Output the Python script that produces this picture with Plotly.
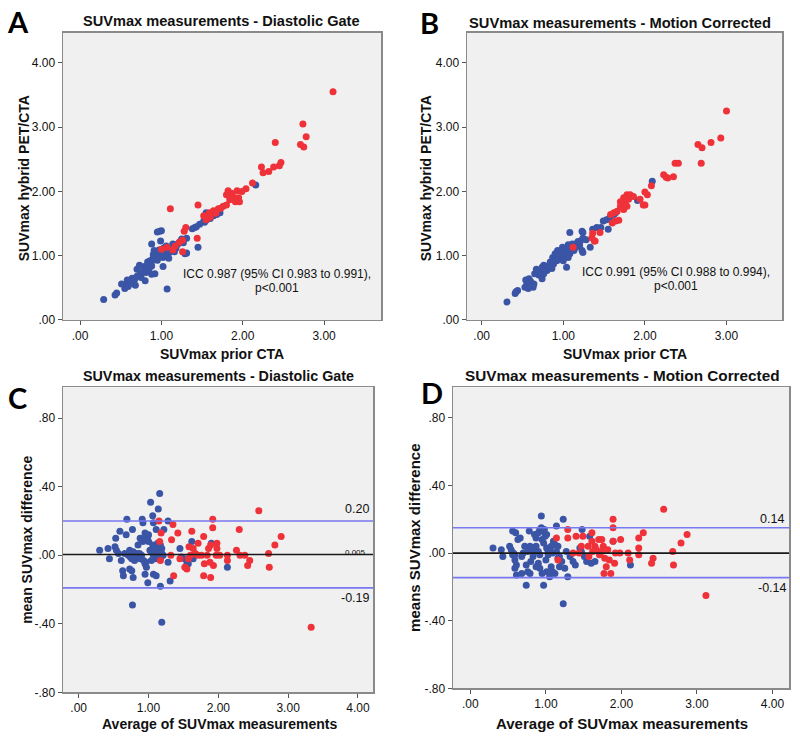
import plotly.graph_objects as go

# ---------------- DATA ----------------
# Panel A: SUVmax prior CTA (x) vs SUVmax hybrid PET/CTA (y), Diastolic Gate
a_red = [(3.11, 3.55), (2.74, 3.05), (2.78, 2.85), (2.71, 2.73), (2.75, 2.69), (2.40, 2.76),
         (2.47, 2.45), (2.45, 2.40), (2.38, 2.38), (2.23, 2.38), (2.25, 2.29), (2.32, 2.31),
         (2.12, 2.13), (2.04, 2.04), (1.99, 2.00), (1.93, 2.01), (1.82, 2.01), (1.80, 1.95),
         (1.89, 1.91), (1.95, 1.90), (1.84, 1.87), (1.91, 1.84), (1.96, 1.84), (1.80, 1.79),
         (1.76, 1.77), (1.70, 1.73), (1.64, 1.70), (1.59, 1.67), (1.52, 1.62), (1.55, 1.56),
         (1.45, 1.79), (1.11, 1.73), (1.30, 1.44), (1.28, 1.38), (1.44, 1.27), (1.26, 1.06),
         (1.26, 1.24), (1.07, 1.13), (1.17, 1.15), (1.00, 1.10), (1.86, 1.97), (1.73, 1.74),
         (1.67, 1.66), (1.60, 1.60), (1.22, 1.21), (1.14, 1.09)]
a_blue = [(0.29, 0.32), (0.45, 0.42), (0.43, 0.39), (0.51, 0.56), (0.57, 0.56), (0.59, 0.52),
          (0.55, 0.49), (0.66, 0.56), (0.68, 0.54), (0.70, 0.68), (0.74, 0.71), (0.70, 0.79),
          (0.73, 0.85), (0.78, 0.77), (0.82, 0.81), (0.84, 0.86), (0.80, 0.61), (0.88, 0.71),
          (0.92, 0.72), (0.86, 0.92), (0.90, 0.97), (0.94, 1.00), (0.91, 1.08), (0.93, 1.05),
          (0.88, 1.18), (0.98, 1.38), (1.00, 1.39), (0.95, 1.37), (0.99, 1.23), (1.02, 0.83),
          (1.07, 0.48), (1.02, 0.97), (1.07, 1.03), (1.11, 1.08), (1.13, 1.13), (1.17, 1.15),
          (1.21, 1.19), (1.25, 1.26), (1.31, 1.27), (1.29, 1.03), (1.31, 1.04), (1.45, 1.13),
          (1.41, 1.44), (1.43, 1.45), (1.47, 1.49), (1.52, 1.54), (1.55, 1.55), (1.58, 1.59),
          (1.55, 1.67), (1.64, 1.62), (1.68, 1.64), (1.72, 1.67), (1.86, 1.94), (2.16, 2.10),
          (0.62, 0.60), (0.76, 0.74), (0.79, 0.83), (0.85, 0.80), (0.87, 0.88), (0.89, 0.93),
          (0.92, 0.95), (0.95, 0.93), (0.97, 0.99), (0.99, 1.02), (1.01, 1.05), (1.04, 1.00),
          (1.05, 1.08), (1.08, 1.10), (1.10, 1.05), (1.12, 1.11), (1.15, 1.10), (1.18, 1.12),
          (1.19, 1.17), (1.23, 1.22), (1.27, 1.20), (0.96, 1.06), (0.90, 1.02), (0.83, 0.90),
          (0.64, 0.65), (0.58, 0.62), (1.53, 1.52), (1.60, 1.58), (1.38, 1.42), (1.09, 0.96),
          (0.93, 0.98), (0.97, 1.09), (1.03, 1.12), (1.06, 1.15), (1.14, 1.18), (1.16, 1.06),
          (0.88, 0.84), (0.81, 0.74), (0.75, 0.66), (0.67, 0.63)]

# Panel B: Motion Corrected
b_red = [(3.00, 3.25), (2.93, 2.83), (2.81, 2.76), (2.65, 2.73), (2.70, 2.68), (2.69, 2.44),
         (2.37, 2.44), (2.41, 2.44), (2.35, 2.23), (2.23, 2.26), (2.26, 2.22), (2.28, 2.21),
         (2.08, 2.09), (2.00, 1.99), (2.03, 1.95), (1.98, 1.79), (2.00, 1.79), (1.86, 1.92),
         (1.82, 1.95), (1.78, 1.95), (1.74, 1.90), (1.70, 1.84), (1.73, 1.82), (1.76, 1.85),
         (1.70, 1.77), (1.78, 1.77), (1.74, 1.72), (1.66, 1.69), (1.62, 1.67), (1.58, 1.64),
         (1.68, 1.55), (1.60, 1.51), (1.64, 1.54), (1.45, 1.36), (1.36, 1.35), (1.35, 1.28),
         (1.38, 1.23), (1.39, 1.23), (1.12, 1.13), (1.80, 1.88), (1.72, 1.80), (1.94, 1.88)]
b_blue = [(0.31, 0.28), (0.42, 0.44), (0.44, 0.46), (0.41, 0.41), (0.53, 0.51), (0.55, 0.54),
          (0.57, 0.49), (0.54, 0.62), (0.58, 0.64), (0.63, 0.51), (0.64, 0.56), (0.65, 0.72),
          (0.67, 0.79), (0.72, 0.74), (0.74, 0.82), (0.76, 0.85), (0.80, 0.77), (0.82, 0.81),
          (0.85, 0.85), (0.88, 0.87), (0.74, 0.64), (0.76, 0.72), (0.87, 0.97), (0.90, 1.03),
          (0.93, 1.08), (0.95, 1.03), (0.98, 1.00), (0.92, 0.92), (1.00, 0.92), (1.04, 0.82),
          (1.06, 0.97), (1.08, 1.03), (1.08, 1.36), (1.12, 1.15), (1.15, 1.18), (1.19, 1.19),
          (1.21, 1.23), (1.24, 1.27), (1.23, 1.38), (1.24, 1.36), (1.23, 1.08), (1.24, 1.05),
          (1.33, 1.13), (1.36, 1.41), (1.41, 1.44), (1.46, 1.44), (1.49, 1.54), (1.53, 1.56),
          (1.55, 1.41), (1.57, 1.59), (1.62, 1.64), (1.64, 1.67), (2.09, 2.16), (1.91, 1.86),
          (0.84, 0.90), (0.89, 0.94), (0.91, 0.98), (0.94, 0.96), (0.96, 1.06), (0.99, 1.09),
          (1.01, 1.04), (1.03, 1.11), (1.05, 1.07), (1.07, 1.13), (1.10, 1.10), (1.13, 1.08),
          (1.16, 1.14), (1.18, 1.22), (1.20, 1.16), (0.97, 0.95), (0.78, 0.80), (0.70, 0.70),
          (0.60, 0.60), (1.02, 0.98), (1.11, 1.18), (1.28, 1.25), (0.93, 1.01), (0.99, 1.13),
          (1.06, 1.17), (1.14, 1.12), (0.86, 0.80), (0.81, 0.84)]

# Panel C: Bland-Altman, Diastolic Gate (average, difference)
c_red = [(3.33, -0.42), (2.58, 0.26), (2.90, 0.11), (2.81, 0.06), (2.72, 0.01), (2.73, -0.07),
         (2.45, -0.03), (2.42, -0.06), (2.38, 0.00), (2.31, 0.00), (2.30, 0.15), (2.26, 0.03),
         (2.13, 0.00), (2.13, -0.03), (1.98, 0.07), (1.98, 0.04), (2.02, 0.00), (1.97, 0.00),
         (1.93, -0.06), (1.88, -0.04), (1.92, 0.21), (1.92, 0.16), (1.86, 0.04), (1.89, 0.06),
         (1.89, -0.13), (1.80, -0.05), (1.79, -0.12), (1.79, 0.11), (1.76, 0.00), (1.71, 0.00),
         (1.67, 0.01), (1.64, 0.04), (1.71, 0.07), (1.62, 0.14), (1.60, 0.00), (1.57, -0.02),
         (1.55, -0.08), (1.52, -0.07), (1.58, 0.05), (1.42, 0.13), (1.35, 0.18), (1.36, -0.12),
         (1.33, 0.09), (1.32, 0.00), (1.15, 0.20), (1.16, 0.08), (1.17, -0.03), (1.18, 0.13),
         (1.45, -0.02), (1.84, 0.00)]
c_blue = [(0.30, 0.03), (0.42, 0.04), (0.44, -0.02), (0.52, 0.05), (0.54, 0.03), (0.57, 0.01),
          (0.53, 0.10), (0.59, 0.14), (0.61, -0.03), (0.63, -0.09), (0.64, -0.12), (0.68, 0.12),
          (0.69, 0.21), (0.73, -0.08), (0.76, -0.09), (0.78, -0.13), (0.77, 0.15), (0.77, -0.29),
          (0.71, 0.00), (0.76, -0.02), (0.80, -0.03), (0.83, 0.01), (0.66, 0.01), (0.73, 0.03),
          (0.78, 0.02), (0.85, 0.00), (0.88, -0.02), (0.85, 0.06), (0.88, 0.10), (0.90, 0.09),
          (0.92, 0.08), (0.97, 0.10), (0.99, 0.11), (0.95, 0.13), (0.91, 0.21), (0.92, 0.19),
          (0.99, -0.16), (0.95, -0.05), (0.93, -0.03), (0.97, -0.07), (0.95, -0.11), (1.03, 0.31),
          (1.06, 0.23), (1.07, 0.19), (1.11, 0.15), (1.14, 0.27), (1.16, 0.36), (1.17, -0.18),
          (1.19, -0.39), (1.07, -0.11), (1.11, -0.12), (1.04, -0.03), (1.02, 0.03), (1.04, 0.02),
          (1.08, 0.04), (1.09, 0.01), (1.11, 0.05), (1.14, 0.03), (1.16, 0.02), (1.19, 0.04),
          (1.21, 0.00), (1.07, 0.00), (1.12, -0.01), (1.15, 0.00), (1.22, 0.15), (1.28, 0.20),
          (1.28, -0.04), (1.31, -0.15), (1.45, 0.04), (1.47, -0.01), (1.52, -0.02), (1.55, -0.05),
          (1.57, -0.05), (1.62, 0.08), (1.64, -0.02), (1.90, 0.07), (2.13, -0.07), (0.96, -0.04),
          (1.00, 0.08), (1.13, 0.07), (1.17, 0.06), (1.10, -0.02), (0.82, -0.01), (0.90, 0.00),
          (1.13, 0.01), (1.16, 0.05), (1.19, 0.01), (1.10, 0.03), (1.14, -0.02), (1.18, -0.01),
          (0.74, -0.01), (0.80, 0.00), (0.87, 0.01), (1.06, 0.06), (1.00, 0.12), (0.94, 0.10)]

# Panel D: Bland-Altman, Motion Corrected
d_red = [(3.12, -0.25), (2.56, 0.26), (2.87, 0.11), (2.79, 0.06), (2.68, 0.01), (2.69, -0.07),
         (2.42, -0.03), (2.40, -0.06), (2.29, 0.12), (2.23, 0.09), (2.23, 0.03), (2.23, -0.01),
         (2.11, -0.04), (2.09, 0.00), (1.99, 0.08), (1.98, 0.00), (1.92, 0.00), (1.89, 0.20),
         (1.89, 0.15), (1.89, 0.07), (1.91, -0.06), (1.86, -0.12), (1.77, -0.12), (1.80, -0.08),
         (1.84, -0.04), (1.76, 0.04), (1.74, 0.01), (1.71, -0.01), (1.78, -0.03), (1.82, 0.02),
         (1.70, 0.08), (1.74, 0.08), (1.65, 0.04), (1.62, 0.01), (1.67, 0.02), (1.61, 0.12),
         (1.61, 0.07), (1.57, -0.02), (1.56, 0.04), (1.49, 0.10), (1.47, 0.04), (1.44, 0.00),
         (1.40, 0.10), (1.36, 0.00), (1.29, 0.14), (1.29, 0.09), (1.14, 0.09), (1.16, -0.04)]
d_blue = [(0.30, 0.03), (0.41, 0.02), (0.43, -0.02), (0.52, 0.04), (0.54, 0.02), (0.57, 0.00),
          (0.56, -0.01), (0.59, -0.01), (0.59, -0.04), (0.61, -0.07), (0.56, 0.13), (0.60, 0.12),
          (0.59, -0.09), (0.61, -0.13), (0.63, 0.08), (0.66, 0.09), (0.68, -0.02), (0.70, 0.00),
          (0.72, 0.04), (0.68, -0.12), (0.74, -0.07), (0.76, -0.11), (0.79, -0.12), (0.74, -0.19),
          (0.78, 0.13), (0.79, 0.04), (0.81, 0.02), (0.83, -0.02), (0.85, 0.01), (0.87, 0.04),
          (0.90, 0.01), (0.92, -0.01), (0.85, 0.11), (0.87, 0.09), (0.90, 0.12), (0.92, 0.14),
          (0.94, 0.15), (0.96, 0.13), (0.98, 0.14), (1.01, 0.11), (0.94, 0.22), (0.87, -0.08),
          (0.90, -0.06), (0.92, -0.09), (0.95, -0.12), (0.97, -0.19), (1.01, -0.11), (1.05, -0.14),
          (1.07, -0.08), (1.09, -0.11), (1.12, -0.12), (1.03, 0.01), (1.01, 0.03), (1.03, -0.01),
          (1.05, 0.02), (1.07, 0.04), (1.09, 0.00), (1.14, 0.01), (1.16, 0.04), (1.18, -0.02),
          (1.12, 0.05), (1.14, 0.16), (1.23, 0.20), (1.23, -0.30), (1.16, -0.03), (1.18, -0.08),
          (1.21, -0.05), (1.25, -0.09), (1.29, -0.14), (1.27, 0.01), (1.32, -0.02), (1.36, -0.05),
          (1.39, -0.07), (1.48, 0.14), (1.45, 0.03), (1.47, 0.01), (1.51, -0.02), (1.54, -0.05),
          (1.58, 0.10), (1.60, -0.06), (1.65, -0.05), (1.89, 0.07), (2.12, -0.07), (0.97, 0.06),
          (1.00, -0.04), (1.10, 0.07), (0.80, -0.05), (0.95, 0.08), (0.99, 0.10), (0.76, 0.01)]

# Bland-Altman reference lines (upper LoA, mean, lower LoA)
c_lines = [0.20, 0.005, -0.19]
d_lines = [0.15, 0.0, -0.145]
c_line_labels = ["0.20", "0.005", "-0.19"]
d_line_labels = ["0.14", "", "-0.14"]

scatter_ticks = [0, 1, 2, 3, 4]
scatter_ticktext = [".00", "1.00", "2.00", "3.00", "4.00"]
ba_xticks = [0, 1, 2, 3, 4]
ba_xticktext = [".00", "1.00", "2.00", "3.00", "4.00"]
ba_yticks = [-0.8, -0.4, 0.0, 0.4, 0.8]
ba_yticktext = ["-.80", "-.40", ".00", ".40", ".80"]

# ---------------- STYLE ----------------
BLUE = "#3b55a6"
RED = "#ef3239"
FONT = "Liberation Sans, Arial, sans-serif"
W, H = 800, 743


def px(x):
    return x / W


def py(y):
    return 1 - y / H


fig = go.Figure()

panels = [
    ("", a_blue, a_red),
    ("2", b_blue, b_red),
    ("3", c_blue, c_red),
    ("4", d_blue, d_red),
]
for suf, blue, red in panels:
    for pts, col in ((blue, BLUE), (red, RED)):
        fig.add_trace(go.Scatter(
            x=[p[0] for p in pts], y=[p[1] for p in pts], mode="markers",
            marker=dict(color=col, size=7, line=dict(width=0)),
            xaxis="x" + suf, yaxis="y" + suf, showlegend=False, hoverinfo="skip"))

axis_common = dict(showline=True, linecolor="#8a8a8a", linewidth=1.5, mirror=True,
                   ticks="outside", ticklen=4, tickcolor="#555", showgrid=False,
                   zeroline=False, tickfont=dict(family=FONT, size=12, color="#111"))

fig.update_layout(
    width=W, height=H, margin=dict(l=0, r=0, t=0, b=0),
    paper_bgcolor="white", plot_bgcolor="#f0f0f0", showlegend=False,
    xaxis=dict(domain=[px(63), px(381)], range=[-0.21, 3.70], anchor="y",
               tickvals=scatter_ticks[:4], ticktext=scatter_ticktext[:4], **axis_common),
    yaxis=dict(domain=[py(323), py(33)], range=[0, 4.47], anchor="x",
               tickvals=scatter_ticks, ticktext=scatter_ticktext, **axis_common),
    xaxis2=dict(domain=[px(467), px(782)], range=[-0.18, 3.68], anchor="y2",
                tickvals=scatter_ticks[:4], ticktext=scatter_ticktext[:4], **axis_common),
    yaxis2=dict(domain=[py(323), py(33)], range=[0, 4.47], anchor="x2",
                tickvals=scatter_ticks, ticktext=scatter_ticktext, **axis_common),
    xaxis3=dict(domain=[px(63), px(373)], range=[-0.225, 4.216], anchor="y3",
                tickvals=ba_xticks, ticktext=ba_xticktext, **axis_common),
    yaxis3=dict(domain=[py(699), py(391)], range=[-0.80, 0.98], anchor="x3",
                tickvals=ba_yticks, ticktext=ba_yticktext, **axis_common),
    xaxis4=dict(domain=[px(453), px(789)], range=[-0.23, 4.22], anchor="y4",
                tickvals=ba_xticks, ticktext=ba_xticktext, **axis_common),
    yaxis4=dict(domain=[py(695), py(391)], range=[-0.80, 0.98], anchor="x4",
                tickvals=ba_yticks, ticktext=ba_yticktext, **axis_common),
)

# reference lines
for suf, vals in (("3", c_lines), ("4", d_lines)):
    for i, v in enumerate(vals):
        fig.add_shape(type="line", xref="x" + suf + " domain", yref="y" + suf,
                      x0=0, x1=1, y0=v, y1=v,
                      line=dict(color="#1a1a1a" if i == 1 else "#7878f0", width=1.6))

annos = []


def text(x, y, s, size=13.5, bold=True, angle=0, family=FONT, color="#111"):
    annos.append(dict(x=px(x), y=py(y), xref="paper", yref="paper",
                      text=("<b>%s</b>" % s) if bold else s,
                      showarrow=False, textangle=angle, xanchor="center", yanchor="middle",
                      font=dict(family=family, size=size, color=color)))


# panel letters
for lx, ly, l in ((18, 22, "A"), (429, 23, "B"), (17, 401, "C"), (432, 396, "D")):
    text(lx, ly, l, size=29, family="Lato, Open Sans, sans-serif", color="#000")

# titles
text(221, 21, "SUVmax measurements - Diastolic Gate", size=14.6)
text(620, 23, "SUVmax measurements - Motion Corrected", size=14.7)
text(218, 380, "SUVmax measurements - Diastolic Gate", size=14.3)
text(622, 379, "SUVmax measurements - Motion Corrected", size=15.3)

# axis titles
text(222, 357, "SUVmax prior CTA", size=14)
text(625, 357, "SUVmax prior CTA", size=14)
text(219, 731, "Average of SUVmax measurements", size=14)
text(622, 730, "Average of SUVmax measurements", size=15)
text(24, 180, "SUVmax hybrid PET/CTA", angle=-90, size=14)
text(426, 180, "SUVmax hybrid PET/CTA", angle=-90, size=14)
text(27, 545, "mean SUVmax difference", angle=-90, size=14)
text(415, 543, "means SUVmax difference", angle=-90, size=15)

# ICC notes
text(277, 277, "ICC 0.987 (95% CI 0.983 to 0.991),", size=12, bold=False)
text(277, 291, "p<0.001", size=12, bold=False)
text(676, 275, "ICC 0.991 (95% CI 0.988 to 0.994),", size=12, bold=False)
text(676, 289, "p<0.001", size=12, bold=False)

# limits of agreement labels
text(357, 514, c_line_labels[0], size=12.5, bold=False)
text(355, 558, c_line_labels[1], size=8, bold=False)
text(355, 604, c_line_labels[2], size=12.5, bold=False)
text(772, 524, d_line_labels[0], size=12.5, bold=False)
text(772, 594, d_line_labels[2], size=12.5, bold=False)

fig.update_layout(annotations=annos)
# remove the browser's default 8px body margin so the figure sits at the page origin
fig.write_html("out.html", config={"displayModeBar": False, "staticPlot": True},
               post_script="document.body.style.margin='0';")
